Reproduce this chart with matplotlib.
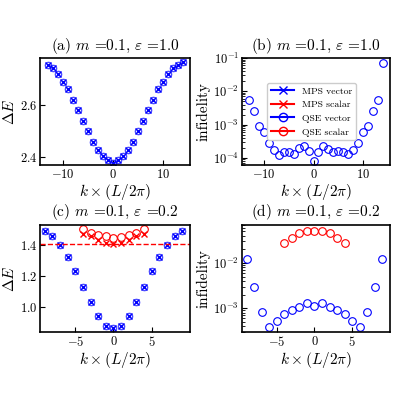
import matplotlib
matplotlib.use("Agg")
import matplotlib.pyplot as plt
import numpy as np

plt.rcParams['font.family'] = ['cmr10', 'DejaVu Serif']
plt.rcParams['mathtext.fontset'] = 'cm'
plt.rcParams['axes.formatter.use_mathtext'] = True
plt.rcParams['xtick.direction'] = 'in'
plt.rcParams['ytick.direction'] = 'in'
plt.rcParams['axes.unicode_minus'] = True

k_a = list(range(-13, 15))
dE_a = [2.755, 2.74, 2.72, 2.69, 2.66, 2.62, 2.58, 2.54, 2.50, 2.46, 2.43, 2.405, 2.39, 2.38,
        2.39, 2.405, 2.43, 2.46, 2.50, 2.54, 2.58, 2.62, 2.66, 2.69, 2.72, 2.74, 2.755, 2.765]
inf_b = [5.5e-3, 2.5e-3, 9e-4, 6e-4, 2.8e-4, 1.7e-4, 1.25e-4, 1.5e-4, 1.5e-4, 1.3e-4, 2e-4, 2.2e-4, 1.6e-4, 8e-5,
         1.5e-4, 2.2e-4, 1.8e-4, 1.5e-4, 1.6e-4, 1.5e-4, 1.3e-4, 1.7e-4, 2.8e-4, 6e-4, 9e-4, 2.5e-3, 5.5e-3, 7e-2]

k_c = list(range(-9, 10))
dE_c = [1.49, 1.46, 1.40, 1.32, 1.23, 1.13, 1.03, 0.94, 0.88, 0.865,
        0.88, 0.94, 1.03, 1.13, 1.23, 1.32, 1.40, 1.46, 1.49]
k_cs = list(range(-4, 5))
dE_cs_qse = [1.50, 1.48, 1.465, 1.455, 1.445, 1.45, 1.465, 1.48, 1.50]
dE_cs_mps = [1.47, 1.455, 1.43, 1.415, 1.405, 1.415, 1.43, 1.455, 1.47]
threshold_c = 1.405
inf_d = [1.2e-2, 3e-3, 8.5e-4, 3.8e-4, 5.2e-4, 7.5e-4, 9e-4, 1.05e-3, 1.3e-3, 1.1e-3,
         1.3e-3, 1.05e-3, 9e-4, 7.5e-4, 5.2e-4, 3.8e-4, 8.5e-4, 3e-3, 1.2e-2]
inf_ds = [2.8e-2, 3.6e-2, 4.5e-2, 5e-2, 5.2e-2, 5e-2, 4.5e-2, 3.6e-2, 2.8e-2]

fig = plt.figure(figsize=(4, 4), dpi=100)
axa = fig.add_axes([0.1, 0.587, 0.375, 0.268])
axb = fig.add_axes([0.605, 0.587, 0.37, 0.268])
axc = fig.add_axes([0.1, 0.17, 0.375, 0.268])
axd = fig.add_axes([0.605, 0.17, 0.37, 0.268])

ms = 4.5
xl = r'$k\times(L/2\pi)$'

axa.plot(k_a, dE_a, 'x', color='blue', ms=ms, mew=1)
axa.plot(k_a, dE_a, 'o', color='blue', mfc='none', ms=ms, mew=1, alpha=0.7)
axa.set_ylim(2.37, 2.78); axa.set_xlim(-14.5, 15.5)
axa.set_yticks([2.4, 2.6])
axa.set_ylabel(r'$\Delta E$', labelpad=2)
axa.set_title(r'(a) $m$ =0.1, $\varepsilon$ =1.0', fontsize=11)

axb.plot(k_a, inf_b, 'o', color='blue', mfc='none', ms=5.5, mew=0.8)
axb.set_yscale('log'); axb.set_ylim(6e-5, 1e-1); axb.set_xlim(-14.5, 15.5)
axb.set_ylabel('infidelity', labelpad=2)
axb.set_title(r'(b) $m$ =0.1, $\varepsilon$ =1.0', fontsize=11)
h = [axb.plot([], [], '-x', color='blue')[0], axb.plot([], [], '-x', color='red')[0],
     axb.plot([], [], '-o', color='blue', mfc='none')[0], axb.plot([], [], '-o', color='red', mfc='none')[0]]
axb.legend(h, ['MPS vector', 'MPS scalar', 'QSE vector', 'QSE scalar'], fontsize=7,
           loc='center', bbox_to_anchor=(0.47, 0.5), framealpha=1, handlelength=2.4)

axc.plot(k_c, dE_c, 'x', color='blue', ms=ms, mew=1)
axc.plot(k_c, dE_c, 'o', color='blue', mfc='none', ms=ms, mew=1, alpha=0.7)
axc.plot(k_cs, dE_cs_mps, 'x', color='red', ms=5, mew=1)
axc.plot(k_cs, dE_cs_qse, 'o', color='red', mfc='none', ms=5.5, mew=0.8)
axc.axhline(threshold_c, color='red', ls='--', lw=1)
axc.set_ylim(0.84, 1.53); axc.set_xlim(-9.6, 10)
axc.set_yticks([1.0, 1.2, 1.4])
axc.set_xticks([-5, 0, 5])
axc.set_ylabel(r'$\Delta E$', labelpad=2)
axc.set_title(r'(c) $m$ =0.1, $\varepsilon$ =0.2', fontsize=11)

axd.plot(k_c, inf_d, 'o', color='blue', mfc='none', ms=5.5, mew=0.8)
axd.plot(k_cs, inf_ds, 'o', color='red', mfc='none', ms=5.5, mew=0.8)
axd.set_yscale('log'); axd.set_ylim(3e-4, 7e-2); axd.set_xlim(-9.6, 10)
axd.set_xticks([-5, 0, 5])
axd.set_ylabel('infidelity', labelpad=2)
axd.set_title(r'(d) $m$ =0.1, $\varepsilon$ =0.2', fontsize=11)

for ax in (axa, axb, axc, axd):
    ax.set_xlabel(xl, labelpad=1, fontsize=11)
    ax.yaxis.label.set_size(11)
    ax.tick_params(labelsize=9, pad=2)
    for s in ax.spines.values():
        s.set_linewidth(1.2)

fig.savefig('out.png', dpi=100)
